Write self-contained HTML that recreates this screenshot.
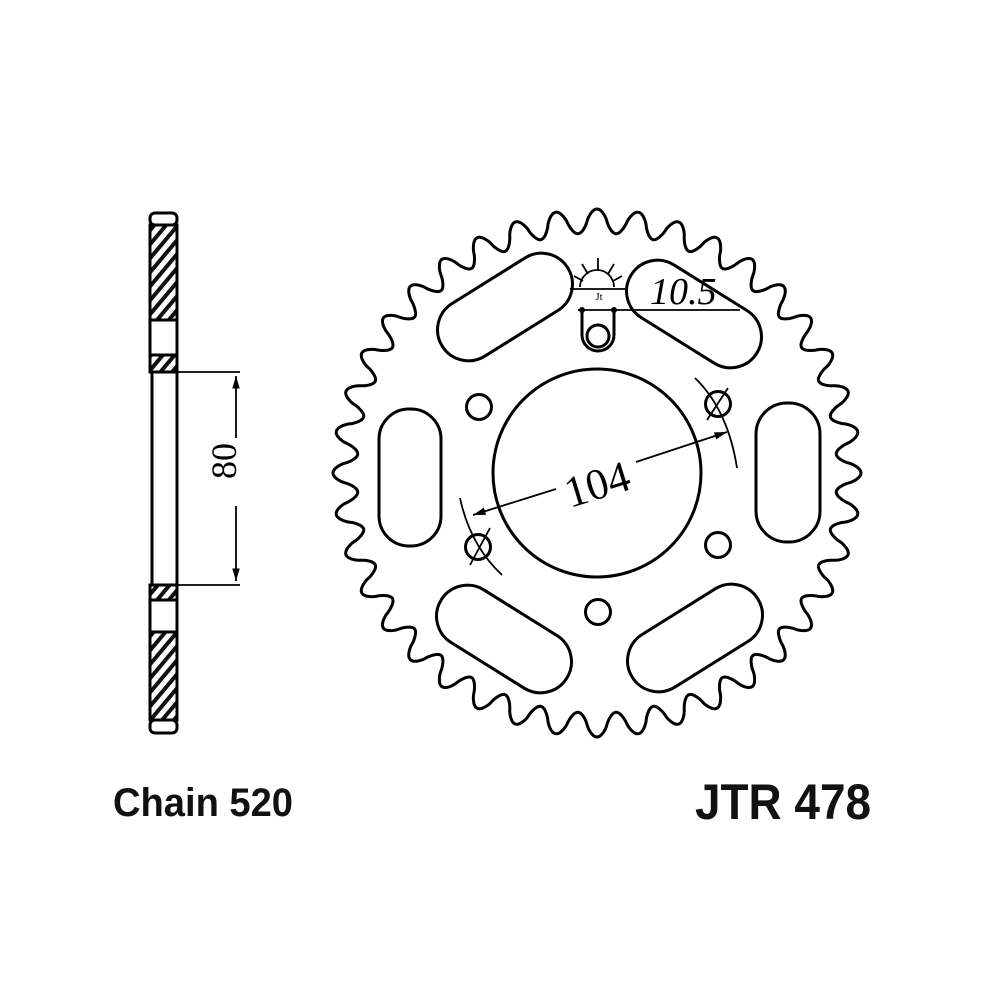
<!DOCTYPE html>
<html><head><meta charset="utf-8"><style>
html,body{margin:0;padding:0;background:#fff;}
svg{display:block;}
</style></head><body>
<svg id="s" width="1000" height="1000" viewBox="0 0 1000 1000" xmlns="http://www.w3.org/2000/svg">
<defs>
<pattern id="h" width="9" height="9" patternUnits="userSpaceOnUse" patternTransform="rotate(40)">
<rect width="9" height="9" fill="#fff"/><rect width="4" height="9" fill="#111"/>
</pattern>
<marker id="a" viewBox="0 0 10 10" refX="10" refY="5" markerWidth="7" markerHeight="7" orient="auto-start-reverse"><path d="M0,2 L10,5 L0,8 z" fill="#000"/></marker>
</defs>
<g fill="none" stroke="#000" stroke-width="3">
<rect x="150" y="213" width="27" height="12" rx="5"/>
<rect x="150" y="720" width="27" height="13" rx="5"/>
<rect x="150" y="225" width="27" height="95" fill="url(#h)"/>
<rect x="150" y="320" width="27" height="35"/>
<rect x="150" y="355" width="27" height="17" fill="url(#h)"/>
<rect x="152" y="372" width="25" height="213"/>
<rect x="150" y="585" width="27" height="15" fill="url(#h)"/>
<rect x="150" y="600" width="27" height="32"/>
<rect x="150" y="632" width="27" height="88" fill="url(#h)"/>
<g stroke-width="1.8">
<line x1="177" y1="372" x2="240" y2="372"/>
<line x1="177" y1="585" x2="240" y2="585"/>
<line x1="236" y1="376" x2="236" y2="438" marker-start="url(#a)"/>
<line x1="236" y1="506" x2="236" y2="581" marker-end="url(#a)"/>
</g>
<path id="gear" d=""/>
<circle cx="597" cy="473" r="104"/>
<circle cx="479" cy="407" r="12.5"/>
<circle cx="718" cy="404" r="12.5"/>
<circle cx="478" cy="547" r="12.5"/>
<circle cx="718" cy="545" r="12.5"/>
<circle cx="598" cy="612" r="12.5"/>
<path d="M582,310 L582,335 A16,16 0 0 0 614,335 L614,310"/>
<circle cx="598" cy="336" r="11"/>
<rect x="379" y="409" width="62" height="137" rx="30"/>
<rect x="756" y="403" width="64" height="139" rx="31"/>
<rect x="431" y="276" width="148" height="62" rx="31" transform="rotate(-32 505 307)"/>
<rect x="620" y="283" width="148" height="62" rx="31" transform="rotate(32 694 314)"/>
<rect x="430" y="608" width="148" height="62" rx="31" transform="rotate(32 504 639)"/>
<rect x="621" y="607" width="148" height="62" rx="31" transform="rotate(-32 695 638)"/>
<g stroke-width="1.8">
<line x1="578" y1="310" x2="740" y2="310"/>
<path d="M460,498 Q470,545 502,575"/>
<path d="M695,378 Q728,410 737,468"/>
<line x1="470" y1="565" x2="490" y2="528"/>
<line x1="707" y1="420" x2="728" y2="388"/>
<line x1="556" y1="489" x2="473" y2="515" marker-end="url(#a)"/>
<line x1="636" y1="462" x2="727" y2="432" marker-end="url(#a)"/>
<line x1="570" y1="289" x2="627" y2="289"/>
<path d="M580,287 A17,17 0 0 1 614,287"/>
<path d="M598,270 L598,258 M588,274 L582,264 M608,274 L614,264 M583,281 L574,276 M613,281 L622,276"/>
</g>
</g>
<circle cx="582" cy="310" r="3" fill="#000"/>
<circle cx="614" cy="310" r="3" fill="#000"/>
<g font-family="Liberation Serif, serif" fill="#000">
<text x="599" y="300" font-size="11" text-anchor="middle">Jt</text>
<text x="650" y="304" font-size="38" font-style="italic">10.5</text>
<text x="597" y="499" font-size="44" text-anchor="middle" transform="rotate(-17 597 484)">104</text>
<text x="247" y="472" font-size="36" text-anchor="middle" transform="rotate(-90 236 472)">80</text>
</g>
<g font-family="Liberation Sans, sans-serif" font-weight="bold" fill="#111">
<text x="113" y="816" font-size="40" textLength="180" lengthAdjust="spacingAndGlyphs">Chain 520</text>
<text x="695" y="819" font-size="50" textLength="176" lengthAdjust="spacingAndGlyphs">JTR 478</text>
</g>
</svg>
<script>
(function(){
var cx=597,cy=473,N=40,pts=[];
for(var i=0;i<=N*60;i++){
 var th=i/(N*60)*2*Math.PI;
 var ph=((th*N/(2*Math.PI))%1+1)%1;
 var t=Math.abs(ph>0.5?ph-1:ph)*2;
 var c=Math.cos(Math.PI*t);
 var s=(c>=0?1:-1)*Math.pow(Math.abs(c),0.8);
 var r=252+12*s;
 var a=th-Math.PI/2;
 pts.push((cx+r*Math.cos(a)).toFixed(1)+','+(cy+r*Math.sin(a)).toFixed(1));
}
document.getElementById('gear').setAttribute('d','M'+pts.join(' L')+'Z');
})();
</script>
</body></html>
